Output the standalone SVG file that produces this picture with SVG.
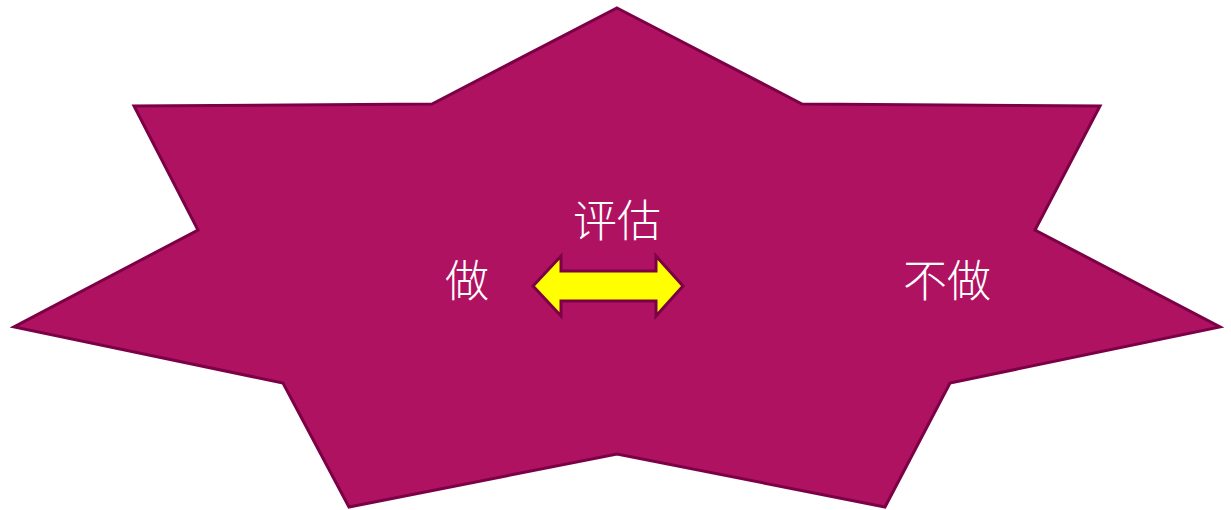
<svg xmlns="http://www.w3.org/2000/svg" width="1231" height="510" viewBox="0 0 1231 510">
<style>
.t{font-family:"Noto Sans CJK SC","Noto Sans CJK JP",sans-serif;font-size:44px;fill:#ffffff;font-weight:300}
</style>
<rect width="1231" height="510" fill="#ffffff"/>
<g id="star">
<polygon points="617,8 802,104 1100,106 1035,230 1220,327 950,383 885,507 617,454 349,507 283,383 14,327 198,230 134,106 432,104" fill="#b01262" stroke="#7c0046" stroke-width="3" stroke-linejoin="miter"/>
</g>
<g id="arrow">
<polygon points="533,286 561,256 561,271 656,271 656,256 683,286 656,316 656,301 561,301 561,316" fill="#ffff00" stroke="#7c0046" stroke-width="3"/>
</g>
<g id="label-eval"><text class="t" x="617" y="237" text-anchor="middle">评估</text></g>
<g id="label-do"><text class="t" x="467" y="297" text-anchor="middle">做</text></g>
<g id="label-notdo"><text class="t" x="947" y="297" text-anchor="middle">不做</text></g>
</svg>
